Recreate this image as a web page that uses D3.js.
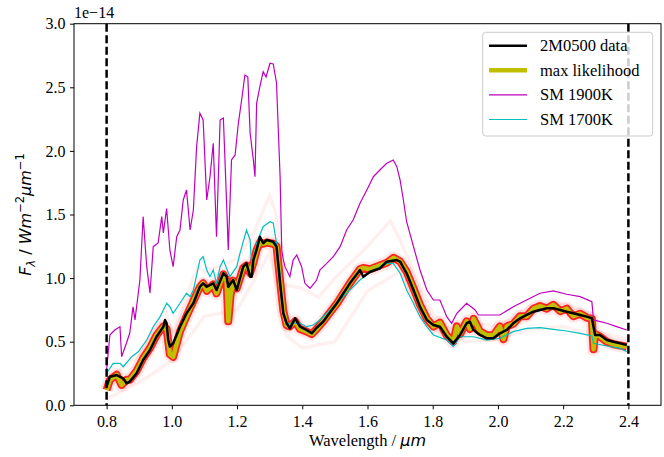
<!DOCTYPE html>
<html><head><meta charset="utf-8">
<script src="https://cdn.jsdelivr.net/npm/d3@7"></script>
<style>body{margin:0;background:#fff}svg{display:block}</style>
</head><body>
<svg id="chart" width="664" height="457"></svg>
<script>
// ---- data (flux in units of 1e-14 W m^-2 um^-1) ----
const xTicks = [0.8,1.0,1.2,1.4,1.6,1.8,2.0,2.2,2.4];
const yTicks = [0.0,0.5,1.0,1.5,2.0,2.5,3.0];
const vLines = [0.8,2.4];
const seriesNames = ["2M0500 data","max likelihood","SM 1900K","SM 1700K"];

const dataObs = [[0.800,0.146],[0.810,0.225],[0.831,0.238],[0.851,0.212],[0.861,0.173],[0.871,0.186],[0.892,0.252],[0.912,0.356],[0.933,0.435],[0.953,0.539],[0.974,0.618],[0.979,0.671],[0.984,0.645],[0.989,0.513],[0.994,0.461],[1.004,0.487],[1.025,0.618],[1.045,0.723],[1.066,0.802],[1.086,0.932],[1.096,0.959],[1.107,0.932],[1.127,0.959],[1.137,0.906],[1.158,1.038],[1.168,1.011],[1.173,0.932],[1.188,0.985],[1.199,0.906],[1.219,1.090],[1.229,1.116],[1.240,1.011],[1.245,1.011],[1.250,1.142],[1.260,1.221],[1.270,1.325],[1.280,1.274],[1.291,1.300],[1.311,1.286],[1.321,1.247],[1.332,0.959],[1.342,0.723],[1.352,0.645],[1.362,0.605],[1.378,0.684],[1.393,0.618],[1.413,0.592],[1.429,0.566],[1.444,0.610],[1.464,0.657],[1.506,0.802],[1.546,0.959],[1.577,1.064],[1.587,1.011],[1.608,1.050],[1.638,1.077],[1.659,1.129],[1.690,1.142],[1.700,1.129],[1.720,1.038],[1.741,0.906],[1.761,0.775],[1.782,0.671],[1.802,0.631],[1.822,0.618],[1.843,0.539],[1.863,0.487],[1.884,0.553],[1.904,0.645],[1.914,0.657],[1.925,0.592],[1.945,0.553],[1.966,0.527],[1.986,0.527],[2.006,0.566],[2.027,0.592],[2.047,0.645],[2.068,0.684],[2.088,0.710],[2.109,0.736],[2.129,0.749],[2.150,0.763],[2.170,0.763],[2.191,0.749],[2.211,0.736],[2.231,0.723],[2.252,0.710],[2.272,0.697],[2.288,0.684],[2.293,0.618],[2.298,0.553],[2.313,0.553],[2.334,0.513],[2.354,0.500],[2.375,0.487],[2.395,0.474]];

const maxLike = [[0.800,0.12],[0.810,0.20],[0.831,0.24],[0.846,0.16],[0.861,0.20],[0.871,0.20],[0.892,0.27],[0.912,0.37],[0.933,0.45],[0.953,0.55],[0.974,0.62],[0.984,0.60],[0.994,0.40],[1.004,0.38],[1.025,0.58],[1.045,0.70],[1.066,0.82],[1.086,0.93],[1.096,0.96],[1.107,0.90],[1.127,0.95],[1.137,0.88],[1.158,1.03],[1.168,0.98],[1.173,0.66],[1.180,0.86],[1.188,0.98],[1.199,0.92],[1.219,1.08],[1.229,1.10],[1.240,1.04],[1.250,1.12],[1.260,1.22],[1.270,1.28],[1.280,1.27],[1.291,1.28],[1.311,1.27],[1.321,1.25],[1.332,0.98],[1.342,0.74],[1.352,0.63],[1.362,0.62],[1.378,0.66],[1.393,0.60],[1.413,0.58],[1.429,0.56],[1.444,0.60],[1.464,0.66],[1.506,0.80],[1.546,0.96],[1.577,1.07],[1.587,1.08],[1.608,1.07],[1.638,1.10],[1.659,1.12],[1.680,1.16],[1.700,1.13],[1.720,1.05],[1.741,0.92],[1.761,0.79],[1.782,0.68],[1.802,0.62],[1.822,0.65],[1.843,0.55],[1.863,0.50],[1.874,0.62],[1.884,0.56],[1.904,0.66],[1.914,0.60],[1.925,0.68],[1.945,0.58],[1.966,0.55],[1.986,0.55],[2.006,0.62],[2.017,0.52],[2.027,0.62],[2.047,0.64],[2.068,0.70],[2.088,0.70],[2.109,0.76],[2.129,0.78],[2.150,0.76],[2.170,0.79],[2.191,0.74],[2.211,0.76],[2.231,0.70],[2.252,0.72],[2.272,0.69],[2.288,0.68],[2.293,0.44],[2.298,0.56],[2.313,0.54],[2.334,0.50],[2.354,0.48],[2.375,0.47],[2.395,0.46]];

const sm1900 = [[0.800,0.278],[0.810,0.553],[0.825,0.592],[0.841,0.618],[0.846,0.382],[0.861,0.490],[0.871,0.568],[0.881,0.775],[0.887,0.671],[0.902,0.985],[0.912,1.483],[0.923,1.090],[0.933,0.883],[0.943,1.247],[0.958,1.276],[0.969,1.483],[0.974,1.355],[0.984,1.547],[0.994,1.221],[1.004,1.090],[1.015,1.325],[1.025,1.378],[1.035,1.614],[1.045,1.693],[1.056,1.378],[1.066,1.535],[1.076,2.033],[1.086,2.296],[1.096,2.243],[1.107,1.614],[1.117,1.797],[1.127,2.060],[1.137,1.325],[1.148,2.243],[1.158,2.259],[1.168,1.588],[1.173,1.221],[1.183,1.929],[1.194,1.968],[1.204,2.217],[1.214,2.400],[1.224,2.597],[1.233,2.581],[1.240,2.141],[1.250,1.929],[1.255,1.797],[1.260,2.374],[1.270,2.505],[1.280,2.623],[1.289,2.581],[1.301,2.689],[1.311,2.683],[1.321,2.534],[1.332,1.797],[1.337,1.221],[1.342,1.142],[1.347,1.090],[1.362,1.011],[1.372,1.142],[1.383,1.182],[1.398,1.090],[1.408,0.959],[1.424,0.920],[1.444,0.985],[1.454,1.064],[1.475,1.116],[1.495,1.168],[1.516,1.247],[1.536,1.378],[1.556,1.457],[1.577,1.588],[1.598,1.693],[1.618,1.797],[1.638,1.850],[1.659,1.903],[1.679,1.929],[1.690,1.876],[1.700,1.771],[1.710,1.614],[1.720,1.443],[1.741,1.247],[1.761,1.064],[1.782,0.906],[1.802,0.828],[1.822,0.828],[1.843,0.697],[1.858,0.645],[1.874,0.723],[1.884,0.749],[1.904,0.802],[1.930,0.749],[1.940,0.710],[1.966,0.710],[2.006,0.710],[2.047,0.775],[2.088,0.828],[2.129,0.881],[2.170,0.899],[2.211,0.873],[2.252,0.854],[2.288,0.814],[2.293,0.671],[2.334,0.645],[2.364,0.618],[2.395,0.592]];

const sm1700 = [[0.800,0.252],[0.820,0.330],[0.841,0.330],[0.851,0.303],[0.877,0.382],[0.897,0.421],[0.923,0.513],[0.943,0.618],[0.964,0.697],[0.984,0.802],[0.994,0.775],[1.004,0.723],[1.025,0.802],[1.045,0.881],[1.056,0.854],[1.066,0.906],[1.086,1.142],[1.096,1.168],[1.107,1.064],[1.117,1.011],[1.127,1.064],[1.137,0.959],[1.148,1.090],[1.158,1.142],[1.178,1.011],[1.199,1.090],[1.209,1.195],[1.229,1.378],[1.240,1.300],[1.245,1.090],[1.260,1.274],[1.280,1.404],[1.301,1.443],[1.311,1.431],[1.321,1.274],[1.332,1.038],[1.342,0.723],[1.352,0.645],[1.372,0.645],[1.393,0.645],[1.413,0.618],[1.434,0.631],[1.454,0.671],[1.495,0.775],[1.536,0.881],[1.577,0.985],[1.618,1.064],[1.659,1.116],[1.679,1.116],[1.700,1.038],[1.720,0.906],[1.741,0.802],[1.761,0.697],[1.782,0.618],[1.802,0.553],[1.843,0.513],[1.863,0.461],[1.884,0.539],[1.925,0.539],[1.966,0.513],[2.006,0.527],[2.047,0.579],[2.088,0.605],[2.129,0.610],[2.170,0.597],[2.211,0.584],[2.252,0.566],[2.288,0.545],[2.293,0.487],[2.334,0.466],[2.375,0.448],[2.395,0.421]];

// faint posterior draws (pink)
const drawHigh = [[0.80,0.20],[0.90,0.40],[0.98,0.75],[1.00,0.55],[1.08,1.10],[1.10,1.05],[1.20,1.15],[1.25,1.35],[1.30,1.65],[1.32,1.50],[1.34,0.95],[1.40,0.92],[1.45,0.85],[1.50,1.00],[1.60,1.25],[1.67,1.45],[1.70,1.30],[1.75,1.00],[1.80,0.72],[1.85,0.60],[1.90,0.66],[2.00,0.62],[2.10,0.78],[2.20,0.80],[2.29,0.72],[2.30,0.58],[2.40,0.52]];
const drawLow = [[0.80,0.05],[0.90,0.18],[1.00,0.35],[1.10,0.70],[1.20,0.75],[1.30,1.20],[1.33,0.85],[1.35,0.55],[1.40,0.45],[1.50,0.50],[1.60,0.90],[1.70,1.05],[1.80,0.60],[1.90,0.50],[2.00,0.52],[2.10,0.60],[2.20,0.62],[2.30,0.55],[2.40,0.45]];

// ---- layout ----
const svg = d3.select("#chart");
const L = 74, R = 661, T = 23.7, B = 405.3;
const x = d3.scaleLinear().domain([0.7,2.5]).range([L,R]);
const y = d3.scaleLinear().domain([0,3]).range([B,T]);
const serif = "'Liberation Serif','Times New Roman',serif";
const mathF = "'DejaVu Sans',sans-serif";

svg.append("defs").append("clipPath").attr("id","clip")
  .append("rect").attr("x",L).attr("y",T).attr("width",R-L).attr("height",B-T);
const plot = svg.append("g").attr("clip-path","url(#clip)");
const line = d3.line().x(d=>x(d[0])).y(d=>y(d[1]));

// pink faint draws
[drawHigh, drawLow].forEach(s=>{
  plot.append("path").datum(s).attr("d",line).attr("fill","none")
    .attr("stroke","#ff0000").attr("stroke-opacity",0.06).attr("stroke-width",3.5);
});
// red band of posterior draws
plot.append("path").datum(maxLike).attr("d",line).attr("fill","none")
  .attr("stroke","#ff0000").attr("stroke-opacity",0.1).attr("stroke-width",13).attr("stroke-linejoin","round");
plot.append("path").datum(maxLike).attr("d",line).attr("fill","none")
  .attr("stroke","#ff0000").attr("stroke-opacity",0.85).attr("stroke-width",8).attr("stroke-linejoin","round");
// max likelihood
plot.append("path").datum(maxLike).attr("d",line).attr("fill","none")
  .attr("stroke","#bfbf00").attr("stroke-width",4.5).attr("stroke-linejoin","round");
// models
plot.append("path").datum(sm1900).attr("d",line).attr("fill","none")
  .attr("stroke","#bf00bf").attr("stroke-width",1.2);
plot.append("path").datum(sm1700).attr("d",line).attr("fill","none")
  .attr("stroke","#00bfbf").attr("stroke-width",1.2);
// data
plot.append("path").datum(dataObs).attr("d",line).attr("fill","none")
  .attr("stroke","#000").attr("stroke-width",2.5).attr("stroke-linejoin","round");

// vertical dashed lines
svg.selectAll(".vl").data(vLines).enter().append("line")
  .attr("x1",d=>x(d)).attr("x2",d=>x(d)).attr("y1",T).attr("y2",B)
  .attr("stroke","#000").attr("stroke-width",2.5).attr("stroke-dasharray","8,3.5");

// axes
const xAxis = svg.append("g").attr("transform",`translate(0,${B})`)
  .call(d3.axisBottom(x).tickValues(xTicks).tickFormat(d3.format(".1f")).tickSize(4).tickSizeOuter(0));
const yAxis = svg.append("g").attr("transform",`translate(${L},0)`)
  .call(d3.axisLeft(y).tickValues(yTicks).tickFormat(d3.format(".1f")).tickSize(4).tickSizeOuter(0));
[xAxis,yAxis].forEach(a=>{
  a.select(".domain").remove();
  a.selectAll("text").attr("font-family",serif).attr("font-size",16).attr("fill","#000");
  a.selectAll("line").attr("stroke","#000").attr("stroke-width",1);
});
xAxis.selectAll("text").attr("y",6).attr("dy","1.0em");
yAxis.selectAll("text").attr("dx","-0.1em").attr("dy","0.33em");
// frame
svg.append("rect").attr("x",L).attr("y",T).attr("width",R-L).attr("height",B-T)
  .attr("fill","none").attr("stroke","#000").attr("stroke-width",1);

// offset text
svg.append("text").attr("x",L).attr("y",18).attr("font-family",serif).attr("font-size",16)
  .text("1e\u221214");

// x label
const xl = svg.append("text").attr("x",(L+R)/2).attr("y",446).attr("text-anchor","middle")
  .attr("font-family",serif).attr("font-size",16.5);
xl.append("tspan").text("Wavelength / ");
xl.append("tspan").attr("font-family",mathF).attr("font-style","italic").attr("font-size",16).text("\u03bcm");

// y label
const yl = svg.append("text").attr("transform",`translate(31,${(T+B)/2}) rotate(-90)`)
  .attr("text-anchor","middle").attr("font-family",mathF).attr("font-size",16);
yl.append("tspan").attr("font-style","italic").text("F");
yl.append("tspan").attr("font-style","italic").attr("font-size",11.5).attr("dy",4).text("\u03bb");
yl.append("tspan").attr("dy",-4).text(" / ");
yl.append("tspan").attr("font-style","italic").text("Wm");
yl.append("tspan").attr("font-size",11.5).attr("dy",-7).text("\u22122");
yl.append("tspan").attr("font-style","italic").attr("dy",7).text("\u03bcm");
yl.append("tspan").attr("font-size",11.5).attr("dy",-7).text("\u22121");

// legend
const lg = svg.append("g");
lg.append("rect").attr("x",482.7).attr("y",32.3).attr("width",170).attr("height",103.7)
  .attr("rx",3).attr("fill","#fff").attr("fill-opacity",0.8).attr("stroke","#cccccc").attr("stroke-width",1);
const legStyles = [
  {c:"#000",w:2.5},{c:"#bfbf00",w:4.5},{c:"#bf00bf",w:1.2},{c:"#00bfbf",w:1.2}
];
seriesNames.forEach((n,i)=>{
  const yy = 45.7 + i*24.6;
  lg.append("line").attr("x1",489).attr("x2",527).attr("y1",yy).attr("y2",yy)
    .attr("stroke",legStyles[i].c).attr("stroke-width",legStyles[i].w);
  lg.append("text").attr("x",540).attr("y",yy+5.5).attr("font-family",serif).attr("font-size",16.5).text(n);
});
</script>
</body></html>
